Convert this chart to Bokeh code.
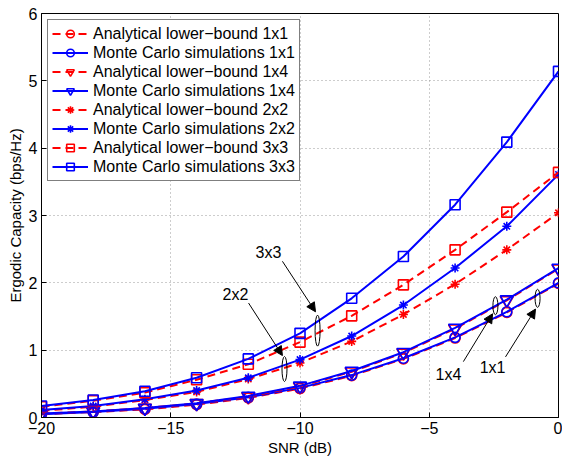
from bokeh.plotting import figure
from bokeh.models import Range1d, Legend, LegendItem, Arrow, NormalHead, FixedTicker
from bokeh.core.properties import value
from bokeh.embed import file_html
from bokeh.resources import INLINE

# ---- data ----
snr = [-20, -18, -16, -14, -12, -10, -8, -6, -4, -2, 0]
an_1x1 = [0.05, 0.08, 0.12, 0.19, 0.29, 0.43, 0.62, 0.87, 1.18, 1.56, 1.99]
mc_1x1 = [0.05, 0.08, 0.13, 0.20, 0.30, 0.44, 0.63, 0.88, 1.19, 1.57, 2.00]
an_1x4 = [0.06, 0.09, 0.14, 0.21, 0.31, 0.46, 0.68, 0.96, 1.32, 1.74, 2.21]
mc_1x4 = [0.06, 0.09, 0.14, 0.21, 0.32, 0.47, 0.69, 0.97, 1.33, 1.75, 2.22]
an_2x2 = [0.10, 0.16, 0.26, 0.38, 0.57, 0.81, 1.13, 1.53, 1.98, 2.49, 3.04]
mc_2x2 = [0.11, 0.17, 0.27, 0.40, 0.59, 0.86, 1.21, 1.67, 2.22, 2.84, 3.61]
an_3x3 = [0.16, 0.25, 0.37, 0.56, 0.79, 1.12, 1.51, 1.97, 2.49, 3.05, 3.64]
mc_3x3 = [0.17, 0.26, 0.39, 0.59, 0.87, 1.25, 1.77, 2.39, 3.16, 4.09, 5.14]

series_names = [
    "Analytical lower\u2212bound 1x1", "Monte Carlo simulations 1x1",
    "Analytical lower\u2212bound 1x4", "Monte Carlo simulations 1x4",
    "Analytical lower\u2212bound 2x2", "Monte Carlo simulations 2x2",
    "Analytical lower\u2212bound 3x3", "Monte Carlo simulations 3x3",
]
series_values = [an_1x1, mc_1x1, an_1x4, mc_1x4, an_2x2, mc_2x2, an_3x3, mc_3x3]
series_markers = ["circle", "circle", "inverted_triangle", "inverted_triangle",
                  "asterisk", "asterisk", "square", "square"]

x_ticks = [-20, -15, -10, -5, 0]
x_tick_labels = ["\u221220", "\u221215", "\u221210", "\u22125", "0"]
y_ticks = [0, 1, 2, 3, 4, 5, 6]

# annotations (label, text pos, arrow start, arrow end, ellipse center, ellipse height px)
ann_labels = ["3x3", "2x2", "1x4", "1x1"]
ann_text_x = [-11.22, -12.50, -4.26, -2.55]
ann_text_y = [2.45, 1.83, 0.64, 0.75]
ann_arrow_x0 = [-10.68, -11.99, -3.68, -2.05]
ann_arrow_y0 = [2.32, 1.70, 0.83, 0.90]
ann_arrow_x1 = [-9.40, -10.68, -2.55, -0.89]
ann_arrow_y1 = [1.57, 0.92, 1.54, 1.61]
ell_x = [-9.32, -10.60, -2.44, -0.81]
ell_y = [1.29, 0.72, 1.66, 1.77]
ell_h = [31, 25, 18, 18]

FONT = "Liberation Sans"

p = figure(width=562, height=458, output_backend="svg", toolbar_location=None,
           x_range=Range1d(-20, 0), y_range=Range1d(0, 6),
           min_border_left=41, min_border_right=4, min_border_top=13, min_border_bottom=39)
p.outline_line_color = "black"
p.outline_line_width = 1
p.background_fill_color = "white"

for ax in (p.xaxis, p.yaxis):
    ax.major_tick_in = 5
    ax.major_tick_out = 0
    ax.minor_tick_line_color = None
    ax.axis_line_color = "black"
    ax.major_tick_line_color = "black"
    ax.major_label_text_font = FONT
    ax.major_label_text_font_size = "16px"
    ax.major_label_text_color = "black"
    ax.axis_label_text_font = FONT
    ax.axis_label_text_font_size = "15px"
    ax.axis_label_text_font_style = "normal"
    ax.axis_label_text_color = "black"
    ax.major_label_standoff = 4
    ax.axis_label_standoff = 2

p.xaxis.ticker = FixedTicker(ticks=x_ticks)
p.xaxis.major_label_overrides = {t: l for t, l in zip(x_ticks, x_tick_labels)}
p.yaxis.ticker = FixedTicker(ticks=y_ticks)
p.xaxis.axis_label = "SNR (dB)"
p.yaxis.axis_label = "Ergodic Capacity (bps/Hz)"

p.grid.grid_line_color = "#9a9a9a"
p.grid.grid_line_dash = "1 3"
p.grid.grid_line_width = 1

items = []
for i, (name, vals, mk) in enumerate(zip(series_names, series_values, series_markers)):
    analytical = (i % 2 == 0)
    col = "#ff0000" if analytical else "#0000ff"
    dash = "8 5" if analytical else "solid"
    lr = p.line(snr, vals, line_color=col, line_width=2, line_dash=dash)
    size = 10
    if mk == "inverted_triangle":
        size = 13
    elif mk == "asterisk":
        size = 9
    sr = p.scatter(snr, vals, marker=mk, size=size, fill_color=None,
                   line_color=col, line_width=1.6)
    items.append(LegendItem(label=name, renderers=[lr, sr]))

legend = Legend(items=items, location="top_left")
legend.label_text_font = FONT
legend.label_text_font_size = "16px"
legend.label_text_color = "black"
legend.glyph_width = 36
legend.glyph_height = 19
legend.label_height = 19
legend.spacing = 0
legend.padding = 4
legend.margin = 6
legend.label_standoff = 5
legend.border_line_color = "black"
legend.border_line_width = 1
legend.background_fill_color = "white"
legend.background_fill_alpha = 1
p.add_layout(legend)

# annotations
for i in range(len(ann_labels)):
    p.add_layout(Arrow(end=NormalHead(size=9, fill_color="black", line_color="black", line_width=1),
                       x_start=ann_arrow_x0[i], y_start=ann_arrow_y0[i],
                       x_end=ann_arrow_x1[i], y_end=ann_arrow_y1[i],
                       line_color="black", line_width=1))
p.ellipse(x=ell_x, y=ell_y, width=5, height=ell_h, width_units="screen", height_units="screen",
          fill_color=None, line_color="black", line_width=1)
p.text(x=ann_text_x, y=ann_text_y, text=ann_labels, text_align="center", text_baseline="middle",
       text_font=value(FONT), text_font_size="16px", text_color="black")

open("out.html", "w").write(file_html(p, INLINE))
